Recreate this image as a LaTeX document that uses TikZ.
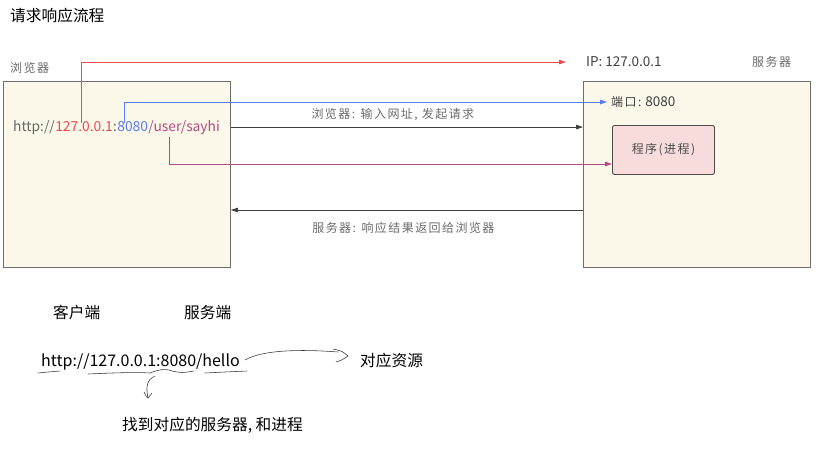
\documentclass[tikz,border=0pt]{standalone}
\usepackage{fontspec}
\setmainfont{Noto Sans CJK SC}
\newfontfamily\cjks[LetterSpace=12]{Noto Sans CJK SC}
\usetikzlibrary{arrows.meta,calc}
\definecolor{cream}{HTML}{FBF7E9}
\definecolor{boxline}{HTML}{6E6E6E}
\definecolor{redl}{HTML}{EC4A52}
\definecolor{bluel}{HTML}{5B7CF0}
\definecolor{purl}{HTML}{B24C84}
\definecolor{greyt}{HTML}{6A6A6A}
\definecolor{pinkf}{HTML}{F8DCDC}
\tikzset{
  machine/.style={draw=boxline,fill=cream,line width=0.9pt,minimum width=227pt,minimum height=186pt,inner sep=0pt},
  small/.style={font=\cjks\fontsize{12}{14}\selectfont,text=greyt,inner sep=0pt},
  urlpart/.style={font=\fontsize{13.8}{16}\selectfont,inner sep=0pt,anchor=base west},
  tip/.style={-{Triangle[length=7pt,width=4.5pt]}},
  big/.style={font=\fontsize{15.7}{18}\selectfont,inner sep=0pt,text=black},
  hand/.style={draw=black!80,line width=0.55pt,line cap=round,line join=round}
}
\begin{document}
\begin{tikzpicture}[x=1pt,y=-1pt]
\useasboundingbox (0,0) rectangle (821,452);
% title
\node[big,anchor=west] (title) at (10,16) {请求响应流程};
% machines
\node[small,anchor=west] (browl) at (10,68) {浏览器};
\node[machine,anchor=north west] (bro) at (3,81) {};
\node[machine,anchor=north west] (srv) at (583,81) {};
\node[small,anchor=west] (srvl) at (752,62) {服务器};
% url in browser
\node[urlpart,text=greyt] (h) at (13,131) {http://};
\node[urlpart,text=redl] (ip) at (h.base east) {127.0.0.1};
\node[urlpart,text=greyt] (col) at (ip.base east) {:};
\node[urlpart,text=bluel] (port) at (col.base east) {8080};
\node[urlpart,text=purl] (path) at (port.base east) {/user/sayhi};
% server side labels
\node[inner sep=0pt,anchor=west,font=\fontsize{13.5}{15}\selectfont,text=black!75] (ipl) at (586,62) {IP: 127.0.0.1};
\node[small,anchor=west,text=black!75] (portl) at (611,102) {端口:\hspace{4pt}{\rmfamily\fontsize{13.5}{15}\selectfont 8080}};
\node[draw=black!70,fill=pinkf,line width=0.9pt,rounded corners=2pt,minimum width=102pt,minimum height=49pt,anchor=north west,small,text=black!70] (prog) at (612,125) {程序(进程)};
% connectors
\draw[redl,line width=0.8pt,tip] ([xshift=-3pt,yshift=-2pt]ip.north) -- ([xshift=-3pt]ip.north |- ipl.west) -- ([xshift=-20pt]ipl.west);
\draw[bluel,line width=0.8pt,tip] ([xshift=-8pt,yshift=-2pt]port.north) -- ([xshift=-8pt]port.north |- portl.west) -- ([xshift=-4pt]portl.west);
\draw[black!75,line width=0.8pt,tip] (bro.east |- h.east) -- (srv.west |- h.east)
  node[pos=0.46,above=6pt,small] (req) {浏览器: 输入网址, 发起请求};
\draw[purl,line width=0.8pt,tip] ([xshift=-15pt,yshift=-3pt]path.south) -- ([xshift=-15pt]path.south |- {0,164}) -- (prog.west |- {0,164});
\coordinate (resp) at (0,210);
\draw[black!75,line width=0.8pt,tip] (srv.west |- resp) -- (bro.east |- resp)
  node[pos=0.51,below=12pt,small] (respl) {服务器: 响应结果返回给浏览器};
% bottom part
\node[big,anchor=west] (client) at (53,313) {客户端};
\node[big,anchor=west] (server) at (184,313) {服务端};
\node[big,anchor=west,font=\fontsize{16}{18}\selectfont] (url) at (41,362) {http://127.0.0.1:8080/hello};
\node[big,anchor=west] (res) at (360,361) {对应资源};
\node[big,anchor=west] (find) at (122,425) {找到对应的服务器, 和进程};
% hand-drawn underlines
\draw[hand] (38,373) .. controls (48,372) .. (60,371);
\draw[hand] (88,374) .. controls (110,373) and (135,372) .. (150,373) .. controls (158,370) and (165,368) .. (172,371) .. controls (182,373) .. (194,371);
\draw[hand] (205,373) .. controls (225,372) .. (247,371);
% curve to resource
\coordinate (rtip) at (348,356);
\draw[hand] (245,360) .. controls (262,350) and (300,349) .. (338,352);
\draw[hand] (333,349) .. controls (342,351) .. (rtip) .. controls (342,360) .. (336,362);
% curve down
\coordinate (dtip) at (148,398);
\draw[hand] (155,376) .. controls (146,380) and (146,388) .. (dtip);
\draw[hand] (144,392) .. controls (146,396) .. (dtip) .. controls (150,395) .. (152,393);
\end{tikzpicture}
\end{document}
